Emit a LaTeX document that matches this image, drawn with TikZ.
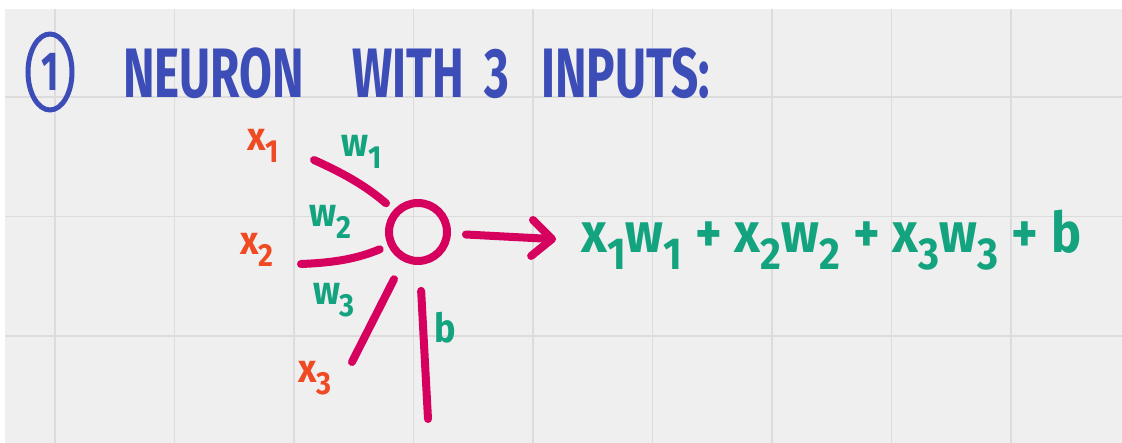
\documentclass[tikz,border=0pt]{standalone}
\usepackage{fontspec}
\usepackage{graphicx}
\usepackage{tikz}
\usetikzlibrary{arrows.meta,positioning,shapes.geometric}
\newfontfamily\titlehand[FakeStretch=0.68]{Fira Sans}
\newfontfamily\mathhand[FakeStretch=0.9]{Fira Sans}
\newcommand{\lo}[1]{\raisebox{-0.3em}{\scalebox{0.8}{#1}}}
\newcommand{\pl}{\hspace{13pt}+\hspace{13pt}}
\definecolor{inkblue}{HTML}{3D4DB7}
\definecolor{inkpink}{HTML}{D6005F}
\definecolor{inkorange}{HTML}{EF4A23}
\definecolor{inkgreen}{HTML}{14A37F}
\definecolor{paper}{HTML}{EFEFEF}
\definecolor{gridline}{HTML}{DCDCDC}

\begin{document}
\begin{tikzpicture}[
    x=1pt, y=-1pt,
    wire/.style={draw=inkpink, line width=8pt, line cap=round},
    neuronbox/.style={circle, draw=inkpink, line width=8pt, minimum size=58pt, inner sep=0pt, outer sep=0pt},
    numring/.style={ellipse, draw=inkblue, line width=5pt, minimum width=44pt, minimum height=76pt, inner sep=0pt,
        text=inkblue, font=\titlehand\bfseries\fontsize{55}{55}\selectfont},
    titletext/.style={text=inkblue, inner sep=0pt, anchor=base west, font=\titlehand\bfseries\fontsize{70}{70}\selectfont},
    inlabel/.style={text=inkorange, inner sep=0pt, font=\mathhand\bfseries\fontsize{40}{40}\selectfont},
    wlabel/.style={text=inkgreen, inner sep=0pt, font=\mathhand\bfseries\fontsize{40}{40}\selectfont},
    sumtext/.style={text=inkgreen, inner sep=0pt, font=\mathhand\bfseries\fontsize{56}{56}\selectfont},
]

% === Paper ===
\useasboundingbox (0,0) rectangle (1122,443);
\fill[paper] (5,9) rectangle (1122,443);
\foreach \gx in {0,...,8}
    \draw[gridline, line width=1.5pt] (55+119.5*\gx,9) -- (55+119.5*\gx,443);
\foreach \gy in {97,216.5,336}
    \draw[gridline, line width=1.5pt] (5,\gy) -- (1122,\gy);

% === Title ===
\node[numring] (num) at (50,72) {1};
\node[titletext] (neurontxt) at (123,98) {NEURON};
\node[titletext] (withtxt) at (352,98) {WITH};
\node[titletext] (threetxt) at (484,98) {3};
\node[titletext] (inputstxt) at (541,98) {INPUTS:};

% === Neuron ===
\node[neuronbox] (neuron) at (418,232) {};

% inputs and weights
\node[inlabel] (x1) at (263,146) {x\lo{1}};
\node[inlabel] (x2) at (257,250) {x\lo{2}};
\node[inlabel] (x3) at (315,378) {x\lo{3}};
\node[wlabel] (w1) at (362,152) {w\lo{1}};
\node[wlabel] (w2) at (330,222) {w\lo{2}};
\node[wlabel] (w3) at (334,300) {w\lo{3}};
\node[wlabel] (b) at (445,328) {b};

\coordinate (x1tail) at (314,160);
\coordinate (x2tail) at (301,264);
\coordinate (x3tail) at (352,362);
\coordinate (btail) at (428,419);
\draw[wire, shorten >=14pt] (x1tail) to[bend left=8] (neuron);
\draw[wire, shorten >=13pt] (x2tail) to[bend right=10] (neuron);
\draw[wire, shorten >=24pt] (x3tail) -- (neuron);
\draw[wire, shorten >=30pt] (btail) -- (neuron);

% === Output ===
\node[sumtext, anchor=base west] (sum) at (581,253) {x\lo{1}w\lo{1}\pl x\lo{2}w\lo{2}\pl x\lo{3}w\lo{3}\pl b};
\draw[wire, shorten <=19pt, shorten >=25pt, -{Straight Barb[length=20pt,width=36pt,round]}] (neuron) -- (sum.west);

\end{tikzpicture}
\end{document}
